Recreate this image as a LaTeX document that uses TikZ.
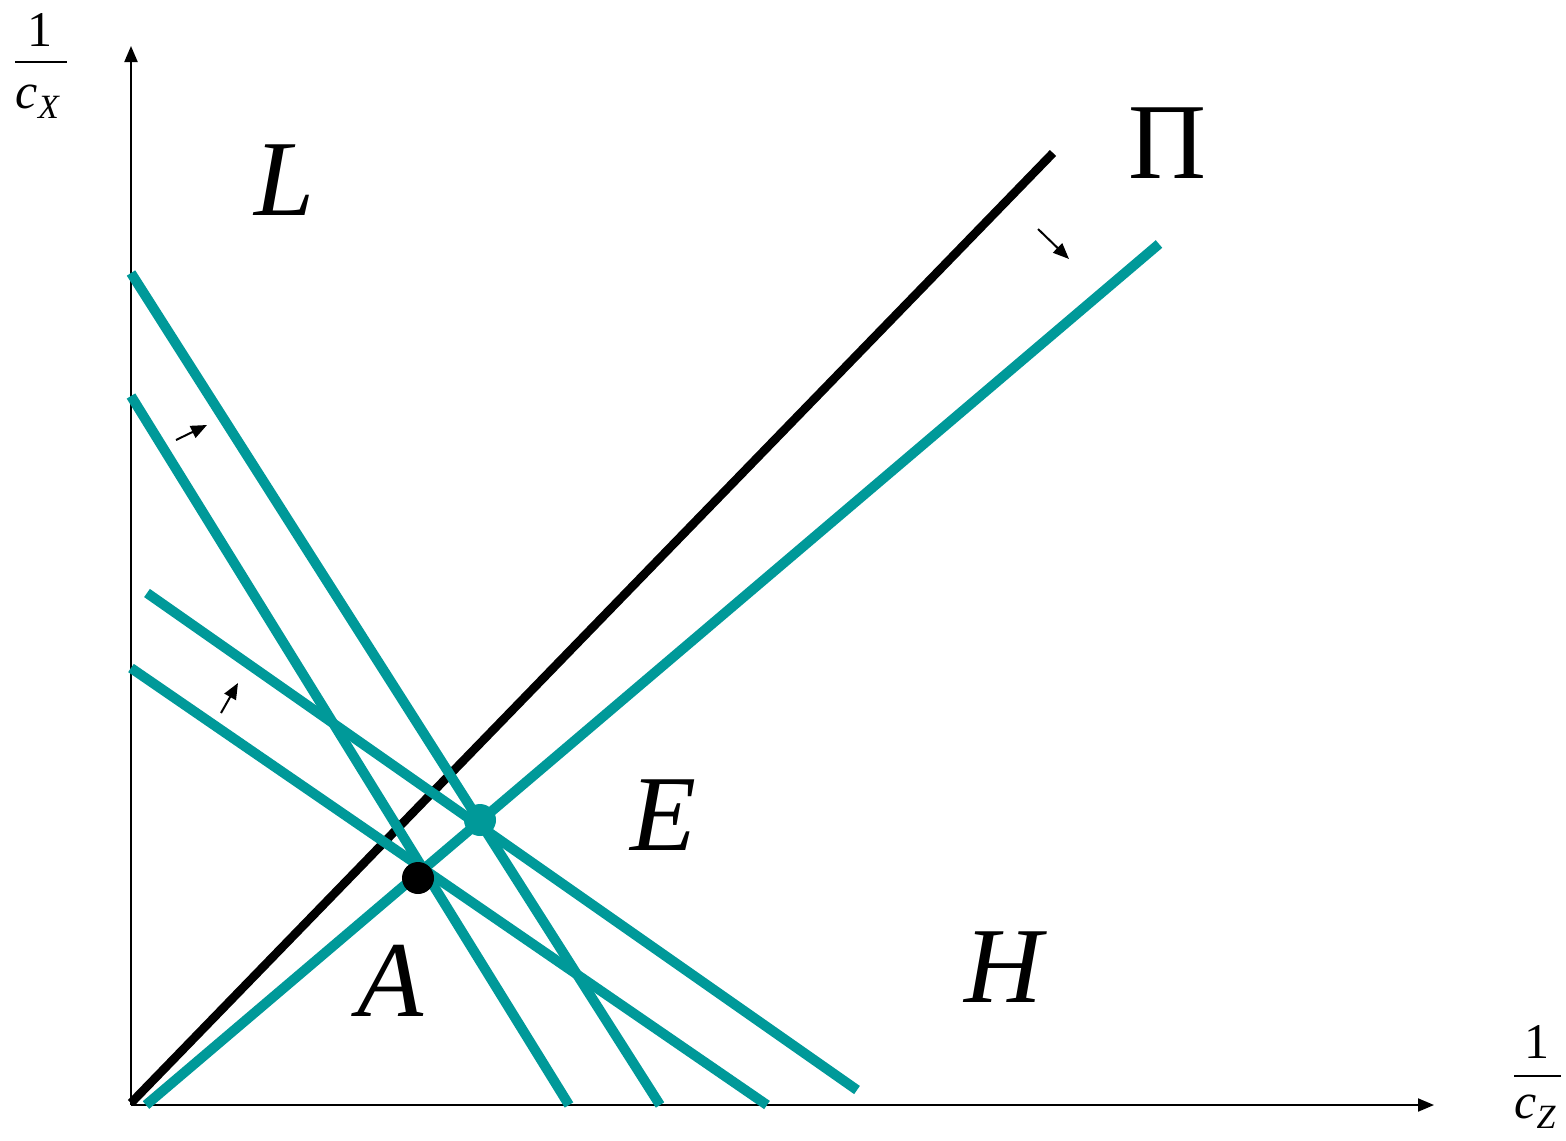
\documentclass[tikz,border=0pt]{standalone}
\usepackage{fontspec}
\setmainfont{Liberation Serif}[
  ItalicFont={Liberation Serif Italic},
  BoldFont={Liberation Serif Bold}]
\usetikzlibrary{arrows.meta}
\definecolor{tealline}{RGB}{0,153,153}
\newcommand{\biglabel}{\fontsize{54}{60}\selectfont}
\newcommand{\fraclabel}[1]{\fontsize{25}{28}\selectfont\textit{c}\raisebox{-0.45ex}{\fontsize{17}{18}\selectfont\textit{#1}}}
\tikzset{
  axis/.style={line width=1pt, -{Triangle[length=8pt,width=6.5pt]}},
  curve/.style={tealline, line width=5pt},
  shift arrow/.style={line width=1pt, -{Triangle[length=8pt,width=6.5pt]}},
  big/.style={font=\biglabel, inner sep=0pt}
}
\begin{document}
\begin{tikzpicture}[x=0.5pt, y=-0.5pt]
\useasboundingbox (0,0) rectangle (1566,1140);

% Axes
\coordinate (O) at (131,1105);
\coordinate (ytop) at (131,46);
\coordinate (xend) at (1434,1105);
\draw[axis] (O) -- (ytop);
\draw[axis] (O) -- (xend);

% Axis labels
\node[inner sep=0pt, font=\fontsize{25}{28}\selectfont] (onex) at (40,30) {1};
\draw[line width=1pt] (15,62) -- (67,62);
\node[inner sep=0pt] (cx) at (38,102) {\fraclabel{X}};
\node[inner sep=0pt, font=\fontsize{25}{28}\selectfont] (onez) at (1537,1042) {1};
\draw[line width=1pt] (1514,1076) -- (1561,1076);
\node[inner sep=0pt] (cz) at (1535,1112) {\fraclabel{Z}};

% Ray of the black line
\coordinate (b0) at (131,1103);
\coordinate (b1) at (1053,153);
\draw[line width=4.3pt] (b0) -- (b1);

% Teal ray through A and E
\coordinate (t0) at (146,1105);
\coordinate (t1) at (1159,244);
\draw[curve] (t0) -- (t1);

% Falling lines
\coordinate (p0) at (131,273);
\coordinate (p1) at (660,1105);
\draw[curve] (p0) -- (p1);
\coordinate (q0) at (131,396);
\coordinate (q1) at (569,1105);
\draw[curve] (q0) -- (q1);
\coordinate (r0) at (147,593);
\coordinate (r1) at (857,1090);
\draw[curve] (r0) -- (r1);
\coordinate (s0) at (131,668);
\coordinate (s1) at (767,1105);
\draw[curve] (s0) -- (s1);

% Shift arrows
\coordinate (m0) at (1038,229);
\coordinate (m1) at (1069,259);
\draw[shift arrow] (m0) -- (m1);
\coordinate (n0) at (176,440);
\coordinate (n1) at (207,425);
\draw[shift arrow] (n0) -- (n1);
\coordinate (k0) at (221,713);
\coordinate (k1) at (238,683);
\draw[shift arrow] (k0) -- (k1);

% Points
\fill[tealline] (480,820) circle (16) coordinate (E);
\fill (418,878) circle (16) coordinate (A);

% Labels
\node[big] (labL) at (285,180) {\textit{L}};
\node[big] (labPi) at (1167,143) {Π};
\node[big] (labE) at (663,815) {\textit{E}};
\node[big] (labA) at (391,981) {\textit{A}};
\node[big] (labH) at (1006,967) {\textit{H}};

\end{tikzpicture}
\end{document}
